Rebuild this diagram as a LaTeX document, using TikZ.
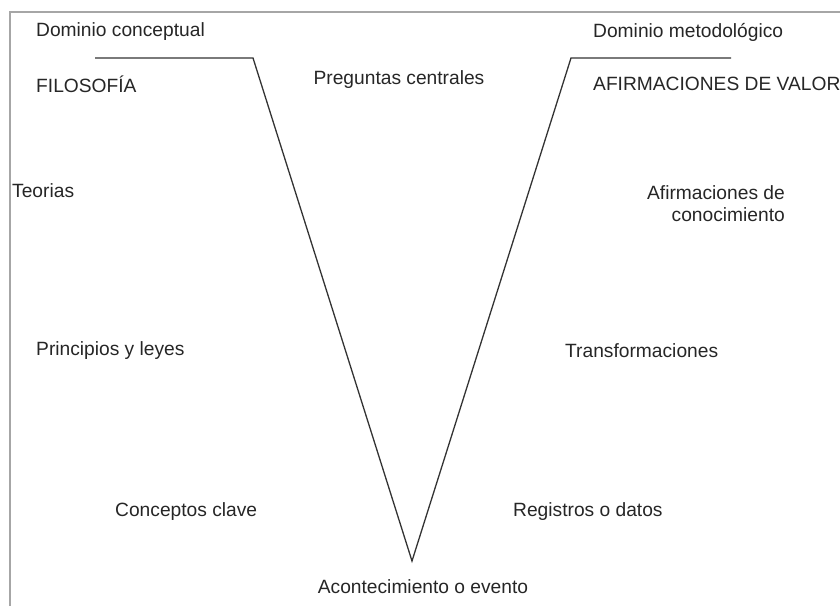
\documentclass[tikz,border=0pt]{standalone}
\usepackage{fontspec}
\setmainfont{Liberation Sans}
\usetikzlibrary{positioning}

\tikzset{
  lbl/.style={font=\fontsize{19.2}{22}\selectfont, text=black!85, inner sep=0pt},
  vline/.style={line width=1.3pt, black!80}
}

\begin{document}
\begin{tikzpicture}[x=1pt,y=-1pt]
\useasboundingbox (0,0) rectangle (840,606);
\draw[gray!70, line width=2.6pt] (10,606) -- (10,12) -- (840,12);
\path coordinate (lt) at (95,58)
      coordinate (lv) at (253,58)
      coordinate (bot) at (412,561)
      coordinate (rv) at (571,58)
      coordinate (rt) at (731,58);
\draw[vline] (lt) -- (lv) -- (bot) -- (rv) -- (rt);
% left side
\node[lbl,anchor=west] (domc) at (36,32) {Dominio conceptual};
\node[lbl,anchor=west] (filo) at (36,84) {FILOSOFÍA};
\node[lbl,anchor=west] (teor) at (12,191) {Teorias};
\node[lbl,anchor=west] (prin) at (36,351) {Principios y leyes};
\node[lbl,anchor=west] (conc) at (115,512) {Conceptos clave};
% center
\node[lbl] (preg) at (399,80) {Preguntas centrales};
\node[lbl] (acon) at (423,587) {Acontecimiento o evento};
% right side
\node[lbl,anchor=west] (domm) at (593,32) {Dominio metodológico};
\node[lbl,anchor=west] (afva) at (593,84) {AFIRMACIONES DE VALOR};
\node[lbl,align=right,anchor=east] (afco) at (785,204) {Afirmaciones de\\conocimiento};
\node[lbl,anchor=west] (tran) at (565,351) {Transformaciones};
\node[lbl,anchor=west] (regi) at (513,512) {Registros o datos};
\end{tikzpicture}
\end{document}
